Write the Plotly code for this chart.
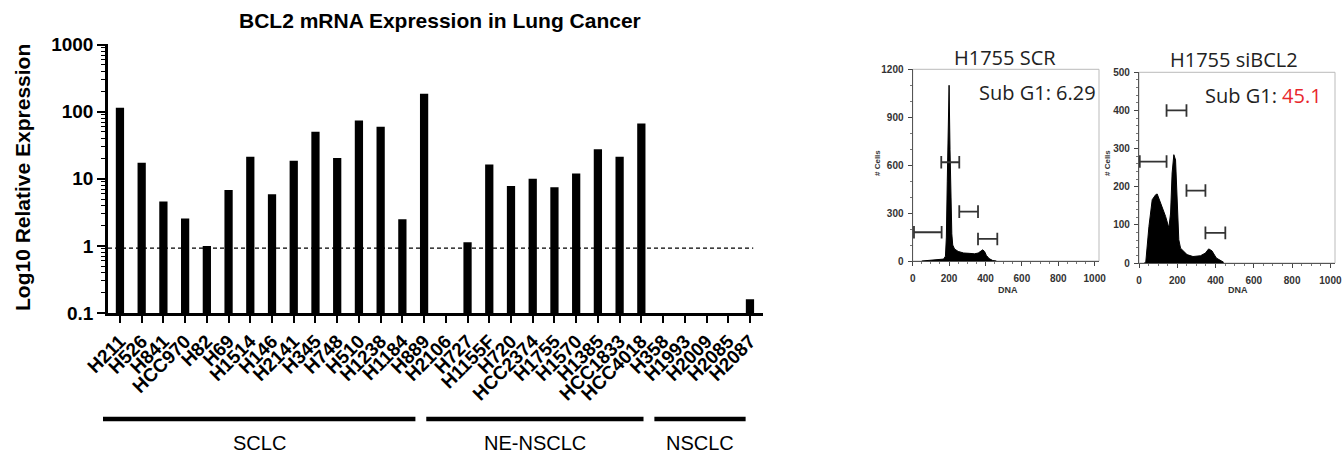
import plotly.graph_objects as go

W, H = 1343, 459

# ---------------- data ----------------
cell_lines = ["H211", "H526", "H841", "HCC970", "H82", "H69", "H1514", "H146", "H2141",
              "H345", "H748", "H510", "H1238", "H1184", "H889", "H2106", "H727", "H1155F",
              "H720", "HCC2374", "H1755", "H1570", "H1385", "HCC1833", "HCC4018", "H358",
              "H1993", "H2009", "H2085", "H2087"]
expression = [115, 17.4, 4.6, 2.56, 1.0, 6.8, 21.4, 5.9, 18.6, 50.5, 20.4, 74, 60, 2.5, 186,
              None, 1.13, 16.4, 7.8, 10.0, 7.5, 12.0, 27.6, 21.4, 66.8, None, None, None, None, 0.16]
reference_level = 0.93
y_tick_vals = [0.1, 1, 10, 100, 1000]
y_tick_text = ["0.1", "1", "10", "100", "1000"]

groups = ["SCLC", "NE-NSCLC", "NSCLC"]
group_start = [-0.78, 14.1, 24.6]   # in category-index units
group_end = [13.6, 24.1, 28.8]

# flow cytometry histograms (DNA channel vs # cells)
scr_dna = [50, 100, 150, 170, 180, 185, 190, 195, 200, 205, 210, 215, 220, 230, 250, 280,
           310, 340, 360, 375, 385, 395, 405, 420, 440, 460]
scr_cells = [0, 5, 8, 12, 30, 150, 500, 850, 1100, 700, 350, 170, 100, 75, 60, 50,
             48, 45, 50, 60, 70, 60, 35, 15, 3, 0]
si_dna = [26, 35, 52, 69, 87, 95, 113, 139, 156, 165, 173, 182, 191, 199, 208, 217, 251,
          282, 321, 347, 364, 381, 404, 442]
si_cells = [0, 0, 96, 166, 179, 181, 157, 122, 92, 131, 236, 284, 270, 166, 61, 39, 22,
            17, 19, 26, 37, 32, 13, 2]
scr_gates = [(7, 159, 180), (157, 256, 618), (256, 359, 309), (359, 465, 138)]
si_gates = [(4, 144, 266), (144, 248, 400), (248, 347, 190), (347, 451, 79)]
scr_subg1 = "6.29"
si_subg1 = "45.1"
scr_yticks = [0, 300, 600, 900, 1200]
si_yticks = [0, 100, 200, 300, 400, 500]
dna_ticks = [0, 200, 400, 600, 800, 1000]

# ---------------- layout helpers ----------------
def px_x(x):
    return x / W

def px_y(y):
    return 1 - y / H

ARIAL = "Arial, Liberation Sans, sans-serif"
MYRIAD = "Open Sans, Noto Sans, sans-serif"

bar_dom = [px_x(108), px_x(763)]
bar_ydom = [px_y(313), px_y(44)]
xr = [-0.55, 29.6]

fig = go.Figure()

idx = list(range(len(cell_lines)))
fig.add_trace(go.Bar(x=idx, y=expression, marker=dict(color="black", line=dict(width=0)),
                     width=0.38, xaxis="x", yaxis="y", showlegend=False))
fig.add_trace(go.Scatter(x=[xr[0], 29.15], y=[reference_level, reference_level], mode="lines",
                         line=dict(color="black", width=1.3, dash="4px,3px"),
                         xaxis="x", yaxis="y", showlegend=False, hoverinfo="skip"))

# histograms
fig.add_trace(go.Scatter(x=scr_dna, y=scr_cells, mode="lines", fill="tozeroy",
                         line=dict(color="black", width=1), fillcolor="black",
                         xaxis="x2", yaxis="y2", showlegend=False))
fig.add_trace(go.Scatter(x=si_dna, y=si_cells, mode="lines", fill="tozeroy",
                         line=dict(color="black", width=1), fillcolor="black",
                         xaxis="x3", yaxis="y3", showlegend=False))
for gates, xa, ya in [(scr_gates, "x2", "y2"), (si_gates, "x3", "y3")]:
    for g0, g1, gy in gates:
        fig.add_trace(go.Scatter(x=[g0, g1], y=[gy, gy], mode="lines+markers",
                                 line=dict(color="#333", width=1.8),
                                 marker=dict(symbol="line-ns", size=9,
                                             line=dict(color="#333", width=1.8)),
                                 xaxis=xa, yaxis=ya, showlegend=False, hoverinfo="skip"))

minor_log = [m * 10 ** e for e in range(-1, 3) for m in range(2, 10)]

hist_tickfont = dict(family=ARIAL, size=10, color="#333", weight="bold")

common_hist = dict(ticks="outside", ticklen=4, tickcolor="#444", showline=True,
                   linecolor="#555", linewidth=1.3, showgrid=False, zeroline=False,
                   automargin=False, tickfont=hist_tickfont)

fig.update_layout(
    width=W, height=H, margin=dict(l=0, r=0, t=0, b=0, autoexpand=False),
    paper_bgcolor="white", plot_bgcolor="white",
    xaxis=dict(domain=bar_dom, range=xr, tickmode="array", tickvals=idx, ticktext=cell_lines,
               tickangle=-45, ticks="outside", ticklen=7, tickwidth=2, tickcolor="black",
               showline=True, linecolor="black", linewidth=2.5, showgrid=False, zeroline=False,
               tickfont=dict(family=ARIAL, size=19, color="black", weight="bold"),
               automargin=False, anchor="y"),
    yaxis=dict(domain=bar_ydom, type="log", range=[-1, 3.01], tickmode="array",
               tickvals=y_tick_vals, ticktext=y_tick_text, ticks="outside", ticklen=8,
               tickwidth=2, tickcolor="black", showline=True, linecolor="black", linewidth=2.5,
               showgrid=False, zeroline=False, automargin=False,
               minor=dict(tickmode="array", tickvals=minor_log, ticks="outside", ticklen=4,
                          tickwidth=1.3, tickcolor="black"),
               tickfont=dict(family=ARIAL, size=19, color="black", weight="bold"),
               anchor="x"),
    xaxis2=dict(common_hist, domain=[px_x(912.7), px_x(1099)], range=[0, 1024],
                tickvals=dna_ticks, anchor="y2", ticklabelstandoff=4,
                minor=dict(dtick=50, ticks="outside", ticklen=2, tickcolor="#777")),
    yaxis2=dict(common_hist, domain=[px_y(261), px_y(69.3)], range=[0, 1200],
                tickvals=scr_yticks, anchor="x2", ticklabelstandoff=2,
                minor=dict(dtick=100, ticks="outside", ticklen=2, tickcolor="#777")),
    xaxis3=dict(common_hist, domain=[px_x(1139), px_x(1335)], range=[0, 1024],
                tickvals=dna_ticks, anchor="y3", ticklabelstandoff=4,
                minor=dict(dtick=50, ticks="outside", ticklen=2, tickcolor="#777")),
    yaxis3=dict(common_hist, domain=[px_y(263), px_y(72.3)], range=[0, 500],
                tickvals=si_yticks, anchor="x3", ticklabelstandoff=2,
                minor=dict(dtick=20, ticks="outside", ticklen=2, tickcolor="#777")),
)

shapes = []
# light frames around the histograms
for xa, ya in [("x2", "y2"), ("x3", "y3")]:
    shapes.append(dict(type="rect", xref=f"{xa} domain", yref=f"{ya} domain",
                       x0=0, x1=1, y0=0, y1=1, line=dict(color="#bbb", width=1), layer="below"))

def idx_to_paper(i):
    return bar_dom[0] + (i - xr[0]) / (xr[1] - xr[0]) * (bar_dom[1] - bar_dom[0])

annotations = []
for name, s, e in zip(groups, group_start, group_end):
    shapes.append(dict(type="line", xref="paper", yref="paper",
                       x0=idx_to_paper(s), x1=idx_to_paper(e), y0=px_y(419), y1=px_y(419),
                       line=dict(color="black", width=4.5)))
    annotations.append(dict(text=name, xref="paper", yref="paper",
                            x=(idx_to_paper(s) + idx_to_paper(e)) / 2, y=px_y(443),
                            showarrow=False, xanchor="center", yanchor="middle",
                            font=dict(family="Liberation Sans Narrow, " + ARIAL, size=20,
                                      color="black")))

annotations += [
    dict(text="<b>BCL2 mRNA Expression in Lung Cancer</b>", xref="paper", yref="paper",
         x=px_x(440), y=px_y(21), showarrow=False, xanchor="center", yanchor="middle",
         font=dict(family=ARIAL, size=21, color="black")),
    dict(text="<b>Log10 Relative Expression</b>", xref="paper", yref="paper",
         x=px_x(22), y=px_y(178), showarrow=False, textangle=-90, xanchor="center",
         yanchor="middle", font=dict(family=ARIAL, size=21, color="black")),
    dict(text="H1755 SCR", xref="paper", yref="paper", x=px_x(1005), y=px_y(57),
         showarrow=False, xanchor="center", yanchor="middle",
         font=dict(family=MYRIAD, size=20, color="#222")),
    dict(text="H1755 siBCL2", xref="paper", yref="paper", x=px_x(1234), y=px_y(59),
         showarrow=False, xanchor="center", yanchor="middle",
         font=dict(family=MYRIAD, size=20, color="#222")),
    dict(text="Sub G1: " + scr_subg1, xref="paper", yref="paper", x=px_x(1098), y=px_y(93),
         showarrow=False, xanchor="right", yanchor="middle",
         font=dict(family=MYRIAD, size=20, color="#222")),
    dict(text="Sub G1: <span style='color:#e8262b'>" + si_subg1 + "</span>", xref="paper",
         yref="paper", x=px_x(1324), y=px_y(95), showarrow=False, xanchor="right",
         yanchor="middle", font=dict(family=MYRIAD, size=20, color="#222")),
    dict(text="<b># Cells</b>", xref="paper", yref="paper", x=px_x(877), y=px_y(163),
         showarrow=False, textangle=-90, xanchor="center", yanchor="middle",
         font=dict(family=ARIAL, size=8, color="#333")),
    dict(text="<b># Cells</b>", xref="paper", yref="paper", x=px_x(1107), y=px_y(163),
         showarrow=False, textangle=-90, xanchor="center", yanchor="middle",
         font=dict(family=ARIAL, size=8, color="#333")),
    dict(text="<b>DNA</b>", xref="paper", yref="paper", x=px_x(1008), y=px_y(290),
         showarrow=False, xanchor="center", yanchor="middle",
         font=dict(family=ARIAL, size=9, color="#333")),
    dict(text="<b>DNA</b>", xref="paper", yref="paper", x=px_x(1238), y=px_y(290),
         showarrow=False, xanchor="center", yanchor="middle",
         font=dict(family=ARIAL, size=9, color="#333")),
]

fig.update_layout(shapes=shapes, annotations=annotations)
fig.write_html("out.html")
